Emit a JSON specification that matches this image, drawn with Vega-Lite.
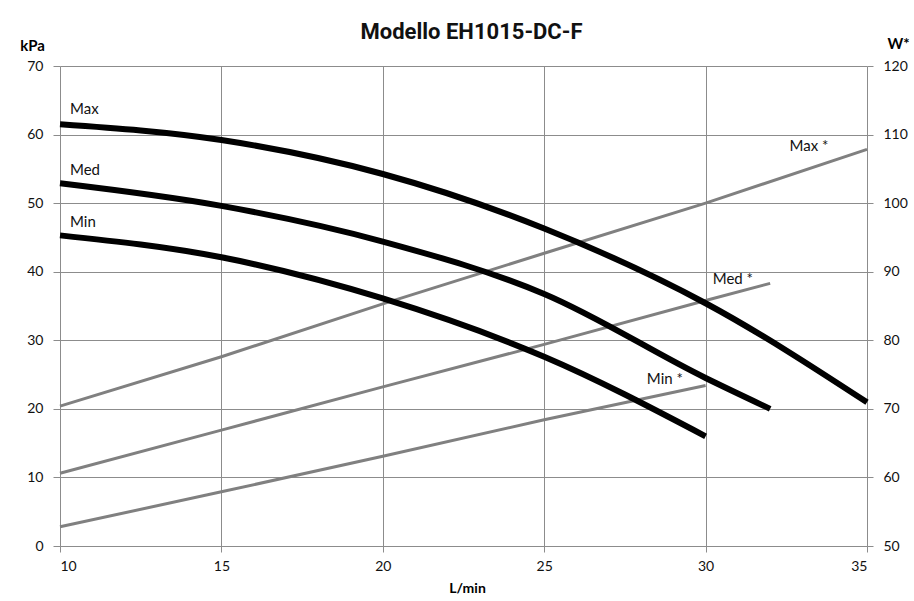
{
  "$schema": "https://vega.github.io/schema/vega-lite/v6.json",
  "width": 807,
  "height": 480,
  "autosize": "none",
  "padding": {"left": 60, "top": 66, "right": 47, "bottom": 55},
  "background": "white",
  "config": {
    "font": "Lato",
    "view": {"stroke": null},
    "axis": {
      "gridColor": "#8c8c8c",
      "gridWidth": 1,
      "domainColor": "#8c8c8c",
      "tickColor": "#8c8c8c",
      "labelColor": "#111111",
      "labelFont": "Lato",
      "labelFontSize": 14,
      "titleFont": "Lato",
      "titleColor": "#000000",
      "titleFontWeight": "bold",
      "titleFontSize": 14
    }
  },
  "title": {
    "text": "Modello EH1015-DC-F",
    "font": "Roboto",
    "fontSize": 22,
    "fontWeight": "bold",
    "color": "#111111",
    "anchor": "middle",
    "frame": "group",
    "offset": -8,
    "dx": 8
  },
  "datasets": {
    "kpa": [
      {"s": "Max", "x": 10, "y": 61.5},
      {"s": "Max", "x": 15, "y": 59.2},
      {"s": "Max", "x": 20, "y": 54.25},
      {"s": "Max", "x": 25, "y": 46.3},
      {"s": "Max", "x": 30, "y": 35.4},
      {"s": "Max", "x": 35, "y": 20.95},
      {"s": "Med", "x": 10, "y": 52.9},
      {"s": "Med", "x": 15, "y": 49.6},
      {"s": "Med", "x": 20, "y": 44.4},
      {"s": "Med", "x": 25, "y": 36.75},
      {"s": "Med", "x": 30, "y": 24.5},
      {"s": "Med", "x": 32, "y": 20.0},
      {"s": "Min", "x": 10, "y": 45.3},
      {"s": "Min", "x": 15, "y": 42.1},
      {"s": "Min", "x": 20, "y": 36.1},
      {"s": "Min", "x": 25, "y": 27.6},
      {"s": "Min", "x": 30, "y": 16.0}
    ],
    "watt": [
      {"s": "Max *", "x": 10, "w": 70.4},
      {"s": "Max *", "x": 15, "w": 77.6},
      {"s": "Max *", "x": 20, "w": 85.3},
      {"s": "Max *", "x": 25, "w": 92.7},
      {"s": "Max *", "x": 30, "w": 100.0},
      {"s": "Max *", "x": 35, "w": 107.85},
      {"s": "Med *", "x": 10, "w": 60.6},
      {"s": "Med *", "x": 15, "w": 66.9},
      {"s": "Med *", "x": 20, "w": 73.2},
      {"s": "Med *", "x": 25, "w": 79.4},
      {"s": "Med *", "x": 30, "w": 85.8},
      {"s": "Med *", "x": 32, "w": 88.3},
      {"s": "Min *", "x": 10, "w": 52.8},
      {"s": "Min *", "x": 15, "w": 57.9},
      {"s": "Min *", "x": 20, "w": 63.1},
      {"s": "Min *", "x": 25, "w": 68.4},
      {"s": "Min *", "x": 30, "w": 73.4}
    ],
    "kpaLabels": [
      {"label": "Max", "x": 10.31, "y": 63.7},
      {"label": "Med", "x": 10.31, "y": 54.8},
      {"label": "Min", "x": 10.31, "y": 47.2}
    ],
    "wLabels": [
      {"label": "Max *", "x": 32.6, "w": 108.3},
      {"label": "Med *", "x": 30.22, "w": 89.0},
      {"label": "Min *", "x": 28.18, "w": 74.4}
    ]
  },
  "layer": [
    {
      "encoding": {
        "y": {
          "field": "w",
          "type": "quantitative",
          "scale": {"domain": [50, 120], "nice": false, "zero": false},
          "axis": {
            "orient": "right",
            "values": [50, 60, 70, 80, 90, 100, 110, 120],
            "grid": false,
            "domain": false,
            "tickSize": 6,
            "labelPadding": 10,
            "title": "W*",
            "titleAngle": 0,
            "titleAlign": "center",
            "titleBaseline": "middle",
            "titleX": 31,
            "titleY": -23,
            "titleFontSize": 15
          }
        }
      },
      "layer": [
        {
          "data": {"name": "watt"},
          "mark": {"type": "line", "stroke": "#808080", "strokeWidth": 3, "interpolate": "linear"},
          "encoding": {
            "x": {"field": "x", "type": "quantitative"},
            "detail": {"field": "s"}
          }
        },
        {
          "data": {"name": "wLabels"},
          "mark": {"type": "text", "align": "left", "baseline": "middle", "fontSize": 15, "color": "#111111", "font": "Lato"},
          "encoding": {
            "x": {"field": "x", "type": "quantitative"},
            "text": {"field": "label"}
          }
        }
      ]
    },
    {
      "encoding": {
        "y": {
          "field": "y",
          "type": "quantitative",
          "scale": {"domain": [0, 70], "nice": false},
          "axis": {
            "orient": "left",
            "values": [0, 10, 20, 30, 40, 50, 60, 70],
            "grid": true,
            "domain": false,
            "tickSize": 7,
            "labelPadding": 10,
            "title": "kPa",
            "titleAngle": 0,
            "titleAlign": "center",
            "titleBaseline": "middle",
            "titleX": -28,
            "titleY": -21,
            "titleFontSize": 15
          }
        }
      },
      "layer": [
        {
          "data": {"name": "kpa"},
          "mark": {"type": "line", "stroke": "#000000", "strokeWidth": 6, "interpolate": "monotone"},
          "encoding": {
            "x": {
              "field": "x",
              "type": "quantitative",
              "scale": {"domain": [10, 35], "nice": false, "zero": false},
              "axis": {
                "values": [10, 15, 20, 25, 30, 35],
                "grid": true,
                "domain": true,
                "tickSize": 6,
                "labelPadding": 7,
                "title": "L/min",
                "titleX": 407,
                "titleY": 42,
                "titleBaseline": "middle",
                "titleFontSize": 14
              }
            },
            "detail": {"field": "s"}
          }
        },
        {
          "data": {"name": "kpaLabels"},
          "mark": {"type": "text", "align": "left", "baseline": "middle", "fontSize": 15, "color": "#111111", "font": "Lato"},
          "encoding": {
            "x": {"field": "x", "type": "quantitative"},
            "text": {"field": "label"}
          }
        }
      ]
    }
  ],
  "resolve": {"scale": {"y": "independent"}, "axis": {"y": "independent"}}
}
